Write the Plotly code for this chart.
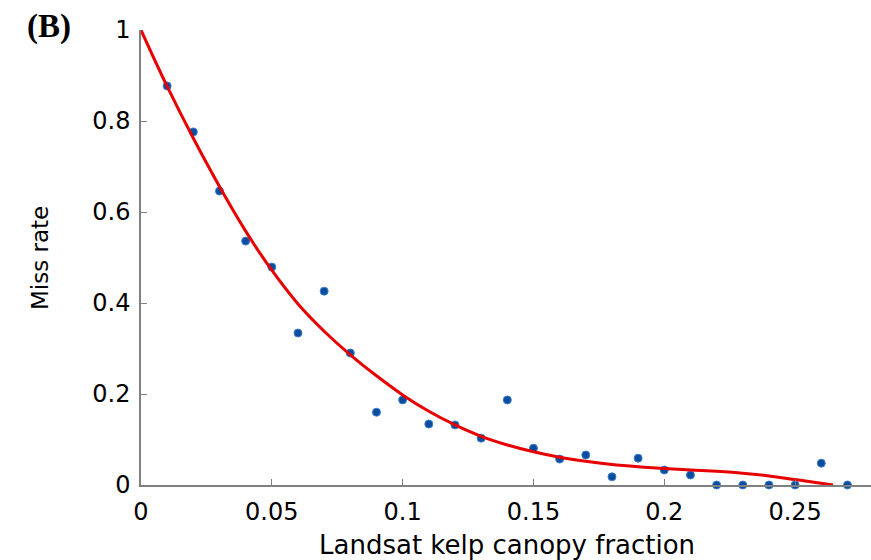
import plotly.graph_objects as go

# Observed data (Landsat kelp canopy fraction vs miss rate)
canopy_fraction = [0.01, 0.02, 0.03, 0.04, 0.05, 0.06, 0.07, 0.08, 0.09, 0.10,
                   0.11, 0.12, 0.13, 0.14, 0.15, 0.16, 0.17, 0.18, 0.19, 0.20,
                   0.21, 0.22, 0.23, 0.24, 0.25, 0.26, 0.27]
miss_rate = [0.877, 0.776, 0.646, 0.536, 0.479, 0.334, 0.426, 0.290, 0.160, 0.187,
             0.134, 0.132, 0.103, 0.187, 0.081, 0.057, 0.066, 0.018, 0.059, 0.033,
             0.022, 0.0, 0.0, 0.0, 0.0, 0.048, 0.0]

# Fitted curve
fit_x = [0.0, 0.01, 0.02, 0.03, 0.04, 0.05, 0.06, 0.07, 0.08, 0.09, 0.10, 0.11,
         0.12, 0.13, 0.14, 0.15, 0.16, 0.17, 0.18, 0.19, 0.20, 0.21, 0.22, 0.23,
         0.24, 0.25, 0.2645]
fit_y = [1.0, 0.876, 0.762, 0.656, 0.558, 0.472, 0.398, 0.338, 0.286, 0.240,
         0.198, 0.162, 0.132, 0.107, 0.088, 0.073, 0.061, 0.052, 0.045, 0.040,
         0.036, 0.033, 0.030, 0.026, 0.020, 0.012, 0.0]

x_ticks = [0, 0.05, 0.1, 0.15, 0.2, 0.25]
x_tick_labels = ["0", "0.05", "0.1", "0.15", "0.2", "0.25"]
y_ticks = [0, 0.2, 0.4, 0.6, 0.8, 1]
y_tick_labels = ["0", "0.2", "0.4", "0.6", "0.8", "1"]

fig = go.Figure()
fig.add_trace(go.Scatter(
    x=canopy_fraction, y=miss_rate, mode="markers",
    marker=dict(size=8, color="#0a4d9c", line=dict(width=1, color="#3f7fd0")),
    cliponaxis=False, showlegend=False))
fig.add_trace(go.Scatter(
    x=fit_x, y=fit_y, mode="lines",
    line=dict(color="#e80000", width=3, shape="spline", smoothing=1.0),
    cliponaxis=False, showlegend=False))

tick_font = dict(family="DejaVu Sans", size=24, color="black")
fig.update_layout(
    width=871, height=560,
    margin=dict(l=141, r=0, t=30, b=75),
    plot_bgcolor="white", paper_bgcolor="white",
    xaxis=dict(range=[0, 0.279], tickvals=x_ticks, ticktext=x_tick_labels,
               ticks="inside", ticklen=6, tickcolor="#808080", tickwidth=1,
               showline=True, linecolor="#808080", linewidth=1.5,
               showgrid=False, zeroline=False, tickfont=tick_font,
               ticklabelstandoff=4),
    yaxis=dict(range=[0, 1], tickvals=y_ticks, ticktext=y_tick_labels,
               ticks="inside", ticklen=6, tickcolor="#808080", tickwidth=1,
               showline=True, linecolor="#808080", linewidth=1.5,
               showgrid=False, zeroline=False, tickfont=tick_font,
               ticklabelstandoff=4),
    annotations=[
        dict(text="<b>(B)</b>", x=(49 - 141) / 730, y=(485 - 26) / 455,
             xref="paper", yref="paper", showarrow=False,
             xanchor="center", yanchor="middle",
             font=dict(family="Liberation Serif", size=33, color="black")),
        dict(text="Miss rate", x=(40 - 141) / 730, y=(485 - 258) / 455,
             xref="paper", yref="paper", showarrow=False, textangle=-90,
             xanchor="center", yanchor="middle",
             font=dict(family="DejaVu Sans", size=23, color="black")),
        dict(text="Landsat kelp canopy fraction", x=(507 - 141) / 730,
             y=(485 - 545) / 455, xref="paper", yref="paper", showarrow=False,
             xanchor="center", yanchor="middle",
             font=dict(family="DejaVu Sans", size=26, color="black")),
    ],
)

fig.write_html("out.html")
